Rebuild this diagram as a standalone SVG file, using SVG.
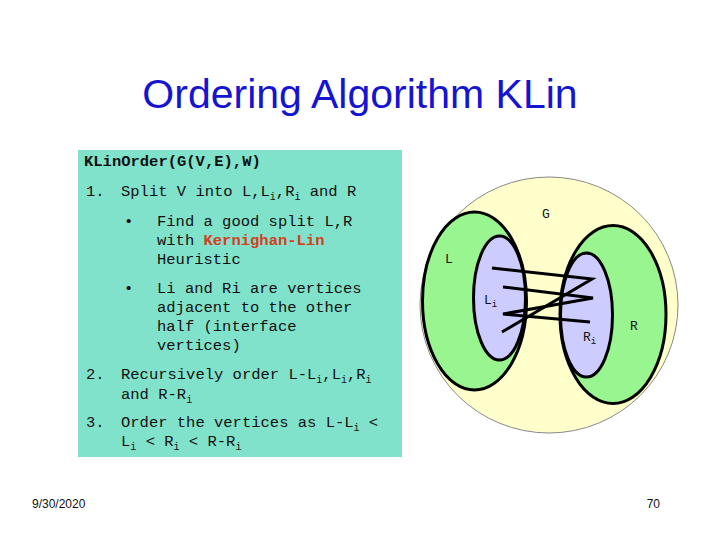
<svg xmlns="http://www.w3.org/2000/svg" width="720" height="540" viewBox="0 0 720 540">
<style>
.m{font-family:"Liberation Mono","Courier New",monospace;font-size:15.5px;fill:#111}
.s{font-size:10px}
.d{font-family:"Liberation Mono",monospace;font-size:13px;fill:#111}
.e{stroke:#000;stroke-width:3}
</style>
<rect width="720" height="540" fill="#fff"/>
<text x="360" y="108" text-anchor="middle" font-family="Liberation Sans,Arial,sans-serif" font-size="41" fill="#1414d2">Ordering Algorithm KLin</text>
<g id="algo">
<rect x="78" y="150" width="324" height="307" fill="#80e2cb"/>
<text class="m" x="84" y="166" font-weight="bold">KLinOrder(G(V,E),W)</text>
<text class="m" x="86" y="196">1.</text>
<text class="m" x="121" y="196">Split V into L,L<tspan class="s" dy="4">i</tspan><tspan dy="-4">,R</tspan><tspan class="s" dy="4">i</tspan><tspan dy="-4"> and R</tspan></text>
<text class="m" x="124" y="226">•</text>
<text class="m" x="157" y="226">Find a good split L,R</text>
<text class="m" x="157" y="245">with <tspan fill="#d2401e" font-weight="bold">Kernighan-Lin</tspan></text>
<text class="m" x="157" y="264">Heuristic</text>
<text class="m" x="124" y="293">•</text>
<text class="m" x="157" y="293">Li and Ri are vertices</text>
<text class="m" x="157" y="312">adjacent to the other</text>
<text class="m" x="157" y="331">half (interface</text>
<text class="m" x="157" y="350">vertices)</text>
<text class="m" x="86" y="379">2.</text>
<text class="m" x="121" y="379">Recursively order L-L<tspan class="s" dy="4">i</tspan><tspan dy="-4">,L</tspan><tspan class="s" dy="4">i</tspan><tspan dy="-4">,R</tspan><tspan class="s" dy="4">i</tspan></text>
<text class="m" x="121" y="399">and R-R<tspan class="s" dy="4">i</tspan></text>
<text class="m" x="86" y="427">3.</text>
<text class="m" x="121" y="427">Order the vertices as L-L<tspan class="s" dy="4">i</tspan><tspan dy="-4"> &lt;</tspan></text>
<text class="m" x="121" y="446">L<tspan class="s" dy="4">i</tspan><tspan dy="-4"> &lt; R</tspan><tspan class="s" dy="4">i</tspan><tspan dy="-4"> &lt; R-R</tspan><tspan class="s" dy="4">i</tspan></text>
</g>
<g id="G"><ellipse cx="549" cy="305" rx="129" ry="128" fill="#ffffcc" stroke="#888" stroke-width="1"/><text class="d" x="542" y="218">G</text></g>
<g id="L"><ellipse cx="474.5" cy="301" rx="52" ry="89" fill="#99f58f" class="e"/><text class="d" x="445" y="263">L</text></g>
<g id="R"><ellipse cx="613" cy="314.5" rx="53" ry="89" fill="#99f58f" class="e"/><text class="d" x="630" y="330">R</text></g>
<g id="Li"><ellipse cx="499.5" cy="298" rx="26" ry="62" fill="#ccccff" class="e"/><text class="d" x="484" y="304">L<tspan font-size="9" dy="3">i</tspan></text></g>
<g id="Ri"><ellipse cx="586.5" cy="315" rx="26" ry="62" fill="#ccccff" class="e"/><text class="d" x="583" y="341">R<tspan font-size="9" dy="3">i</tspan></text></g>
<g id="connectors" fill="none" stroke="#000" stroke-width="3">
<polyline points="492,268 592,279 502,332"/>
<polyline points="503,287 593,298 503,314 590,322"/>
</g>
<text x="32" y="508" font-family="Liberation Sans,Arial,sans-serif" font-size="12" fill="#111">9/30/2020</text>
<text x="660" y="508" text-anchor="end" font-family="Liberation Sans,Arial,sans-serif" font-size="12" fill="#111">70</text>
</svg>
